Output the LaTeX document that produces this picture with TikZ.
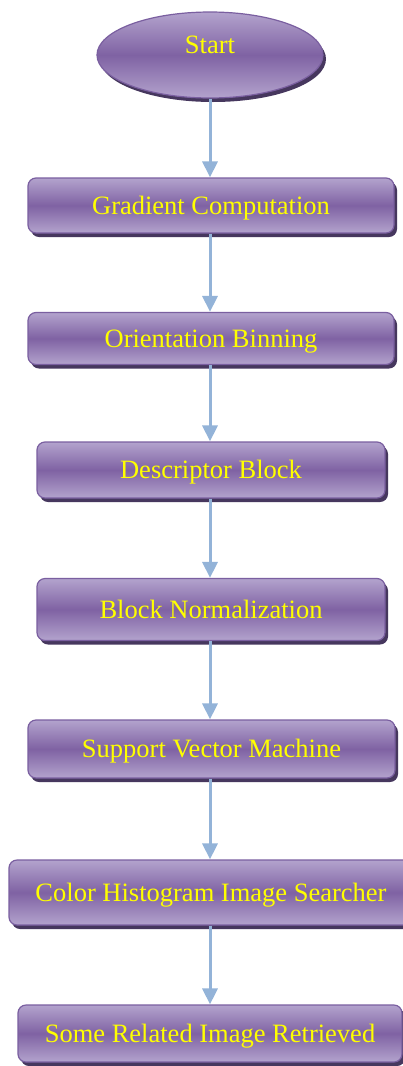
\documentclass[tikz,border=0pt]{standalone}
\usepackage{fontspec}
\setmainfont{Liberation Serif}
\usetikzlibrary{shapes.geometric,shadows,arrows.meta}
\definecolor{boxlight}{HTML}{B3A3CD}
\definecolor{boxmid}{HTML}{7F62A3}
\definecolor{boxedge}{HTML}{7A5FA0}
\definecolor{shadowc}{HTML}{46375E}
\definecolor{arrowc}{HTML}{93B3D8}
\definecolor{textc}{HTML}{FFFF00}
\begin{document}
\begin{tikzpicture}[x=1pt,y=-1pt,
  basefill/.style={draw=boxedge, line width=1.2pt, top color=boxlight, bottom color=boxlight, middle color=boxmid,
    drop shadow={shadow xshift=3pt, shadow yshift=-4pt, fill=shadowc, opacity=1},
    inner sep=0pt, text=textc, font=\fontsize{26.5}{30}\selectfont},
  stepbox/.style={basefill, rectangle, rounded corners=8pt, text height=17.5pt, text depth=0pt},
  startbox/.style={basefill, ellipse, text height=17.5pt, text depth=21.5pt},
  flow/.style={draw=arrowc, line width=3pt, -{Triangle[width=15pt,length=16pt]}}]
\useasboundingbox (0,0) rectangle (403,1066);
\fill[white] (0,0) rectangle (403,1066);
\node[startbox, minimum width=226pt, minimum height=86pt] (start) at (210,55) {Start};
\node[stepbox, minimum width=366pt, minimum height=55pt] (grad) at (211,205.5) {Gradient Computation};
\node[stepbox, minimum width=366pt, minimum height=52pt] (orient) at (211,338.5) {Orientation Binning};
\node[stepbox, minimum width=348pt, minimum height=56pt] (desc) at (211,470) {Descriptor Block};
\node[stepbox, minimum width=348pt, minimum height=62pt] (norm) at (211,609.5) {Block Normalization};
\node[stepbox, minimum width=367pt, minimum height=58pt] (svm) at (211.5,749) {Support Vector Machine};
\node[stepbox, minimum width=404pt, minimum height=65pt] (color) at (211,892.5) {Color Histogram Image Searcher};
\node[stepbox, minimum width=384pt, minimum height=57pt] (some) at (210,1033.5) {Some Related Image Retrieved};
\draw[flow] (start.south) -- (start.south |- grad.north);
\draw[flow] (grad.south -| start.south) -- (start.south |- orient.north);
\draw[flow] (orient.south -| start.south) -- (start.south |- desc.north);
\draw[flow] (desc.south -| start.south) -- (start.south |- norm.north);
\draw[flow] (norm.south -| start.south) -- (start.south |- svm.north);
\draw[flow] (svm.south -| start.south) -- (start.south |- color.north);
\draw[flow] (color.south -| start.south) -- (start.south |- some.north);
\end{tikzpicture}
\end{document}
